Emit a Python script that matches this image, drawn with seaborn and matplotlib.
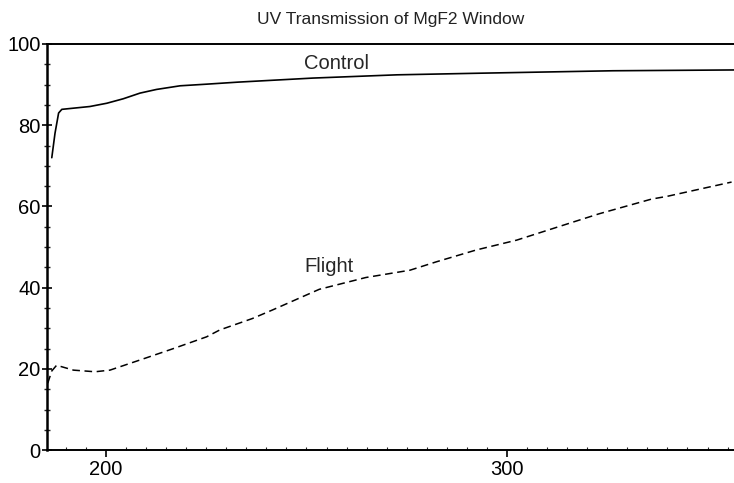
import matplotlib
matplotlib.use("Agg")
import matplotlib.pyplot as plt
from matplotlib.ticker import MultipleLocator
import pandas as pd
import seaborn as sns

# Wavelength (nm) and transmission (%) for the control window
control_wl = [186.5, 187.3, 188.2, 189.0, 196.0, 200.2, 204.3, 208.5, 212.6, 218.5,
              225.1, 232.9, 251.6, 272.6, 293.3, 326.4, 356.6]
control_t = [72.0, 78.0, 83.0, 83.9, 84.6, 85.4, 86.5, 87.9, 88.8, 89.7,
             90.1, 90.6, 91.6, 92.4, 92.8, 93.4, 93.6]

# Wavelength (nm) and transmission (%) for the flight window
flight_wl = [185.5, 186.5, 187.7, 191.9, 197.3, 201.0, 208.5, 216.8, 225.1, 228.4,
             236.5, 241.5, 253.2, 264.8, 275.8, 282.5, 292.4, 302.4, 316.0, 323.0,
             336.0, 340.0, 356.0]
flight_t = [16.5, 19.5, 20.9, 19.7, 19.3, 19.7, 22.2, 25.0, 27.9, 29.6,
            32.4, 34.5, 39.6, 42.5, 44.3, 46.4, 49.3, 51.7, 56.0, 58.2,
            61.8, 62.5, 66.0]

x_ticks = [200, 300]
y_ticks = [0, 20, 40, 60, 80, 100]
title = "UV Transmission of MgF2 Window"

sns.set_theme(style="ticks")
plt.rcParams["font.family"] = ["Liberation Sans", "DejaVu Sans"]

fig = plt.figure(figsize=(7.34, 4.83), dpi=100)
ax = fig.add_axes([0.064, 0.068, 0.936, 0.841])

control = pd.DataFrame({"wl": control_wl, "t": control_t})
flight = pd.DataFrame({"wl": flight_wl, "t": flight_t})

sns.lineplot(data=control, x="wl", y="t", ax=ax, color="black", lw=1.2)
sns.lineplot(data=flight, x="wl", y="t", ax=ax, color="black", lw=1.1,
             linestyle=(0, (5, 3)))

ax.set_xlim(185.3, 356.6)
ax.set_ylim(0, 100)
ax.set_xticks(x_ticks)
ax.set_yticks(y_ticks)
ax.xaxis.set_minor_locator(MultipleLocator(5))
ax.yaxis.set_minor_locator(MultipleLocator(5))
ax.set_xlabel("")
ax.set_ylabel("")

for side in ("left", "bottom", "top"):
    ax.spines[side].set_visible(True)
    ax.spines[side].set_color("black")
ax.spines["left"].set_linewidth(1.8)
ax.spines["bottom"].set_linewidth(1.4)
ax.spines["top"].set_linewidth(1.4)
ax.spines["right"].set_visible(False)

ax.tick_params(axis="y", which="major", direction="inout", length=7, width=1.2,
               labelsize=14.5, pad=1, colors="black")
ax.tick_params(axis="y", which="minor", direction="inout", length=4, width=1.0)
ax.tick_params(axis="x", which="major", direction="out", length=5, width=1.2,
               labelsize=14.5, pad=2, colors="black")
ax.tick_params(axis="x", which="minor", direction="in", length=2, width=0.8)

ax.text(249.4, 95.3, "Control", fontsize=14.5, va="center", ha="left")
ax.text(249.6, 45.3, "Flight", fontsize=14.5, va="center", ha="left")

fig.text(0.532, 0.975, title, fontsize=12.5, ha="center", va="top", color="#222222")

fig.savefig("out.png", dpi=100)
